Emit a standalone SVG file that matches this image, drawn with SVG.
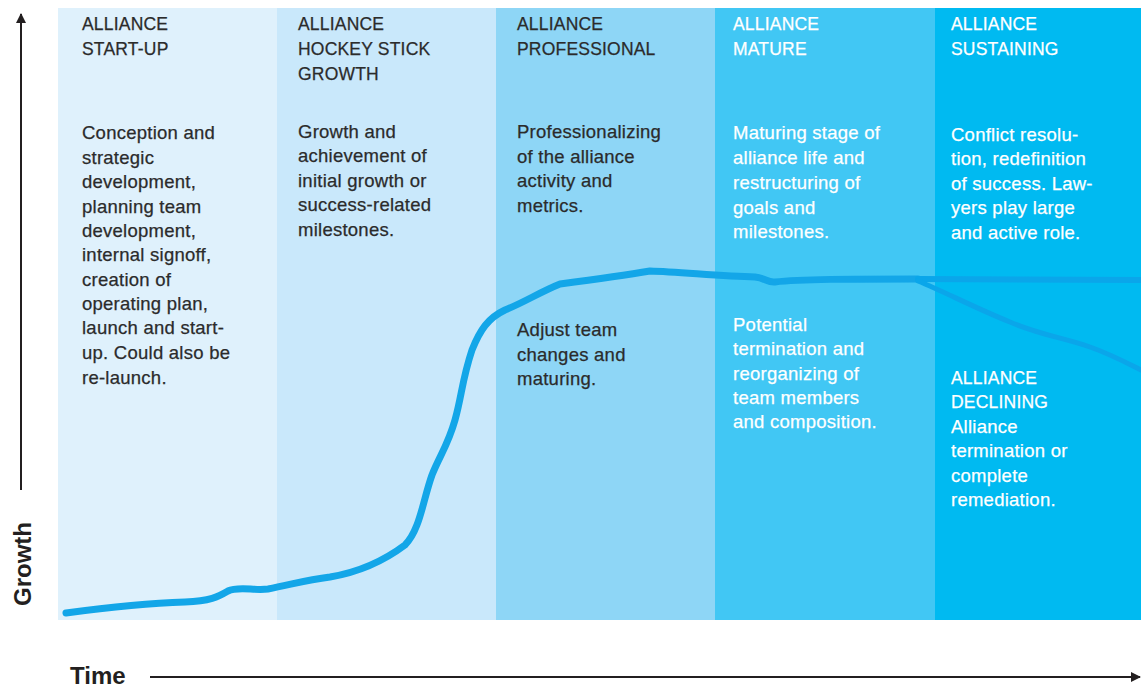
<svg xmlns="http://www.w3.org/2000/svg" width="1141" height="687" viewBox="0 0 1141 687">
<style>
.t{font-family:"Liberation Sans",Arial,sans-serif;font-size:18.5px;letter-spacing:0.25px}
.h{font-family:"Liberation Sans",Arial,sans-serif;font-size:17.5px;letter-spacing:0.2px}
.d{fill:#2b2b2b;stroke:#2b2b2b;stroke-width:0.25}
.w{fill:#ffffff;stroke:#ffffff;stroke-width:0.25}
.ax{font-family:"Liberation Sans",Arial,sans-serif;font-size:24px;font-weight:bold;fill:#231f20}
.curve{fill:none;stroke:#13a6e8;stroke-width:7;stroke-linecap:round;stroke-linejoin:round}
</style>
<defs>
<marker id="arr" viewBox="0 0 10 10" refX="9" refY="5" markerWidth="11" markerHeight="10" markerUnits="userSpaceOnUse" orient="auto">
<path d="M0,0 L10,5 L0,10 Z" fill="#231f20"/>
</marker>
</defs>
<rect width="1141" height="687" fill="#ffffff"/>
<g id="band-startup">
<rect x="58" y="8" width="219" height="612" fill="#dff1fc"/>
<text class="h d" x="82" y="30">ALLIANCE</text>
<text class="h d" x="82" y="55">START-UP</text>
<text class="t d" x="82"><tspan x="82" y="139">Conception and</tspan><tspan x="82" y="164">strategic</tspan><tspan x="82" y="188">development,</tspan><tspan x="82" y="213">planning team</tspan><tspan x="82" y="237">development,</tspan><tspan x="82" y="261">internal signoff,</tspan><tspan x="82" y="286">creation of</tspan><tspan x="82" y="310">operating plan,</tspan><tspan x="82" y="334">launch and start-</tspan><tspan x="82" y="359">up. Could also be</tspan><tspan x="82" y="384">re-launch.</tspan></text>
</g>
<g id="band-hockey">
<rect x="277" y="8" width="219" height="612" fill="#c9e8fb"/>
<text class="h d" x="298" y="30">ALLIANCE</text>
<text class="h d" x="298" y="55">HOCKEY STICK</text>
<text class="h d" x="298" y="80">GROWTH</text>
<text class="t d"><tspan x="298" y="138">Growth and</tspan><tspan x="298" y="162">achievement of</tspan><tspan x="298" y="187">initial growth or</tspan><tspan x="298" y="211">success-related</tspan><tspan x="298" y="236">milestones.</tspan></text>
</g>
<g id="band-professional">
<rect x="496" y="8" width="219" height="612" fill="#8ed6f6"/>
<text class="h d" x="517" y="30">ALLIANCE</text>
<text class="h d" x="517" y="55">PROFESSIONAL</text>
<text class="t d"><tspan x="517" y="138">Professionalizing</tspan><tspan x="517" y="163">of the alliance</tspan><tspan x="517" y="187">activity and</tspan><tspan x="517" y="212">metrics.</tspan></text>
<text class="t d"><tspan x="517" y="336">Adjust team</tspan><tspan x="517" y="361">changes and</tspan><tspan x="517" y="385">maturing.</tspan></text>
</g>
<g id="band-mature">
<rect x="715" y="8" width="220" height="612" fill="#41c7f4"/>
<text class="h w" x="733" y="30">ALLIANCE</text>
<text class="h w" x="733" y="55">MATURE</text>
<text class="t w"><tspan x="733" y="139">Maturing stage of</tspan><tspan x="733" y="164">alliance life and</tspan><tspan x="733" y="189">restructuring of</tspan><tspan x="733" y="214">goals and</tspan><tspan x="733" y="238">milestones.</tspan></text>
<text class="t w"><tspan x="733" y="331">Potential</tspan><tspan x="733" y="355">termination and</tspan><tspan x="733" y="380">reorganizing of</tspan><tspan x="733" y="404">team members</tspan><tspan x="733" y="428">and composition.</tspan></text>
</g>
<g id="band-sustaining">
<rect x="935" y="8" width="206" height="612" fill="#00baf1"/>
<text class="h w" x="951" y="30">ALLIANCE</text>
<text class="h w" x="951" y="55">SUSTAINING</text>
<text class="t w"><tspan x="951" y="141">Conflict resolu-</tspan><tspan x="951" y="165">tion, redefinition</tspan><tspan x="951" y="190">of success. Law-</tspan><tspan x="951" y="214">yers play large</tspan><tspan x="951" y="239">and active role.</tspan></text>
<text class="h w"><tspan x="951" y="384">ALLIANCE</tspan><tspan x="951" y="408">DECLINING</tspan></text>
<text class="t w"><tspan x="951" y="433">Alliance</tspan><tspan x="951" y="457">termination or</tspan><tspan x="951" y="482">complete</tspan><tspan x="951" y="506">remediation.</tspan></text>
</g>
<g id="connectors">
<path class="curve" d="M66,613 C110,607 150,603 185,602 C210,601 218,597 228,591 C238,586 255,591 268,589 C290,585 305,580 330,577 C360,572 385,560 405,545 C420,530 423,500 432,475 C440,455 448,445 455,420 C462,395 462,380 472,350 C480,330 488,318 505,310 C525,302 540,292 560,284 C590,280 620,276 650,271 C680,272 720,276 755,277 C765,278 768,283 775,282 C800,279 850,279 918,279"/>
<path class="curve" d="M918,279 L1141,280" style="stroke:#0aa6ea;stroke-width:6"/>
<path class="curve" d="M918,281 C945,292 975,308 1010,322 C1040,335 1065,338 1090,347 C1110,354 1125,362 1141,370" style="stroke:#0aa6ea;stroke-width:5"/>
<line x1="21" y1="490" x2="21" y2="14" stroke="#231f20" stroke-width="2" marker-end="url(#arr)"/>
<line x1="150" y1="677" x2="1140" y2="677" stroke="#231f20" stroke-width="2" marker-end="url(#arr)"/>
</g>
<text class="ax" x="0" y="0" transform="translate(31,606) rotate(-90)">Growth</text>
<text class="ax" x="70" y="684">Time</text>
</svg>
